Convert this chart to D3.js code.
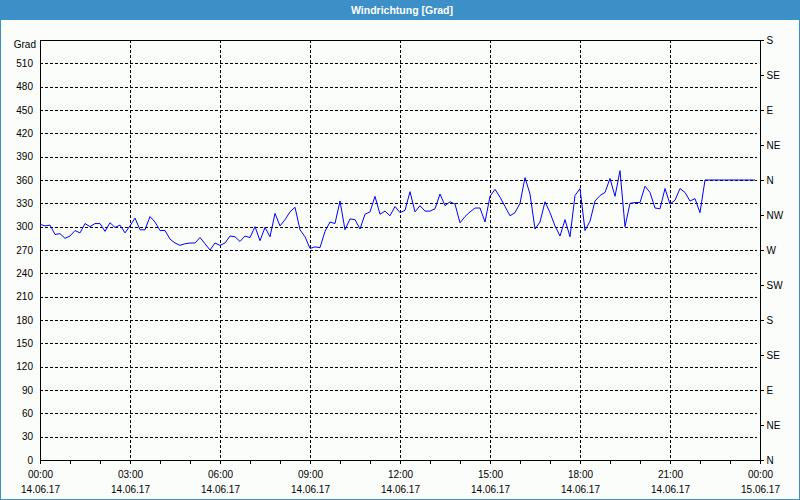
<!DOCTYPE html>
<html><head><meta charset="utf-8">
<script src="https://cdn.jsdelivr.net/npm/d3@7"></script>
<style>
body{margin:0;background:#fff}
svg{display:block}
text{font-family:"Liberation Sans",Arial,sans-serif}
</style></head><body>
<script>
const chartTitle = "Windrichtung [Grad]";
const unitLabel = "Grad";
const yTicks = [0,30,60,90,120,150,180,210,240,270,300,330,360,390,420,450,480,510];
const compassTicks = [0,45,90,135,180,225,270,315,360,405,450,495,540];
const compassLabels = ["N","NE","E","SE","S","SW","W","NW","N","NE","E","SE","S"];
const startTime = "2017-06-14T00:00:00";
const endTime = "2017-06-15T00:00:00";
const stepMinutes = 10;
const values = [
 303,301,302,290,291,285,288,295,292,304,300,304,304,294,305,299,302,292,301,311,
 296,296,313,306,295,295,284,279,276,278,279,279,286,278,270,279,276,279,288,287,
 281,288,286,300,282,299,287,317,301,309,319,325,296,287,272,274,273,294,306,304,
 333,296,310,309,297,316,319,339,316,320,314,326,318,321,345,319,327,320,320,323,
 342,327,332,329,305,313,319,324,324,306,339,348,338,326,314,318,330,363,342,297,
 306,332,318,301,288,309,287,340,349,295,307,333,340,344,362,339,372,300,330,331,
 331,352,344,324,323,349,329,334,349,344,333,336,318,360,360,360,360,360,360,360,
 360,360,360,360
];

const W = 800, H = 500;
const m = {left:40, right:40, top:40, bottom:40};
const svg = d3.select("body").append("svg").attr("width",W).attr("height",H);

svg.append("rect").attr("x",0).attr("y",0).attr("width",W).attr("height",H).attr("fill","#3c8fc7");
svg.append("rect").attr("x",1).attr("y",20).attr("width",W-2).attr("height",H-21).attr("fill","#fbfdfb");
svg.append("text").attr("x",W/2+2).attr("y",14).attr("text-anchor","middle")
  .attr("fill","#fff").attr("font-size","10.5px").attr("font-weight","bold").text(chartTitle);

const t0 = new Date(startTime), t1 = new Date(endTime);
const x = d3.scaleTime().domain([t0,t1]).range([m.left, W-m.right]);
const y = d3.scaleLinear().domain([0,540]).range([H-m.bottom, m.top]);
const data = values.map((v,i)=>({t:new Date(t0.getTime()+i*stepMinutes*60000), v}));

const g = svg.append("g").attr("shape-rendering","crispEdges");
g.selectAll("line.hg").data(yTicks.filter(d=>d>0)).join("line")
  .attr("x1",m.left).attr("x2",W-m.right-3)
  .attr("y1",d=>Math.round(y(d))+0.5).attr("y2",d=>Math.round(y(d))+0.5)
  .attr("stroke","#000").attr("stroke-dasharray","3,2");
const hours = d3.timeHour.range(t0, d3.timeHour.offset(t1,1));
const majorHours = hours.filter(d=>d.getHours()%3===0 && +d>+t0 && +d<+t1);
g.selectAll("line.vg").data(majorHours).join("line")
  .attr("x1",d=>Math.round(x(d))+0.5).attr("x2",d=>Math.round(x(d))+0.5)
  .attr("y1",m.top).attr("y2",H-m.bottom)
  .attr("stroke","#000").attr("stroke-dasharray","3,2");

svg.append("path").datum(data)
  .attr("fill","none").attr("stroke","#0000ff").attr("stroke-width",1)
  .attr("d", d3.line().x(d=>x(d.t)).y(d=>y(d.v)));

g.append("rect").attr("x",m.left+0.5).attr("y",m.top+0.5)
  .attr("width",W-m.left-m.right).attr("height",H-m.top-m.bottom)
  .attr("fill","none").attr("stroke","#000");

const la = svg.append("g").attr("transform",`translate(${m.left},0)`)
  .call(d3.axisLeft(y).tickValues(yTicks).tickSize(0).tickPadding(7));
la.select(".domain").remove();
la.selectAll("text").attr("font-size","10px").attr("fill","#000").attr("font-family","Liberation Sans, Arial, sans-serif");
svg.append("text").attr("x",36).attr("y",48).attr("text-anchor","end")
  .attr("font-size","10px").attr("fill","#000").text(unitLabel);

const ra = svg.append("g").attr("transform",`translate(${W-m.right+0.5},0)`)
  .call(d3.axisRight(y).tickValues(compassTicks).tickSize(3).tickPadding(3)
    .tickFormat((d,i)=>compassLabels[i]));
ra.select(".domain").remove();
ra.selectAll("line").attr("shape-rendering","crispEdges");
ra.selectAll("text").attr("font-size","10px").attr("fill","#000").attr("font-family","Liberation Sans, Arial, sans-serif");

const fmtT = d3.timeFormat("%H:%M"), fmtD = d3.timeFormat("%d.%m.%y");
const ba = svg.append("g").attr("transform",`translate(0,${H-m.bottom+0.5})`)
  .call(d3.axisBottom(x).tickValues(hours.filter(d=>+d<=+t1)).tickSize(3).tickPadding(6).tickFormat(()=>""));
ba.select(".domain").remove();
ba.selectAll("line").attr("shape-rendering","crispEdges");
ba.selectAll(".tick").each(function(d){
  if (d.getHours()%3!==0) return;
  const tx = d3.select(this).select("text").attr("font-size","10px").attr("fill","#000")
    .attr("font-family","Liberation Sans, Arial, sans-serif").attr("dy",null).attr("y",0);
  tx.append("tspan").attr("x",0).attr("y",17).text(fmtT(d));
  tx.append("tspan").attr("x",0).attr("y",32).text(fmtD(d));
});
</script>
</body></html>
